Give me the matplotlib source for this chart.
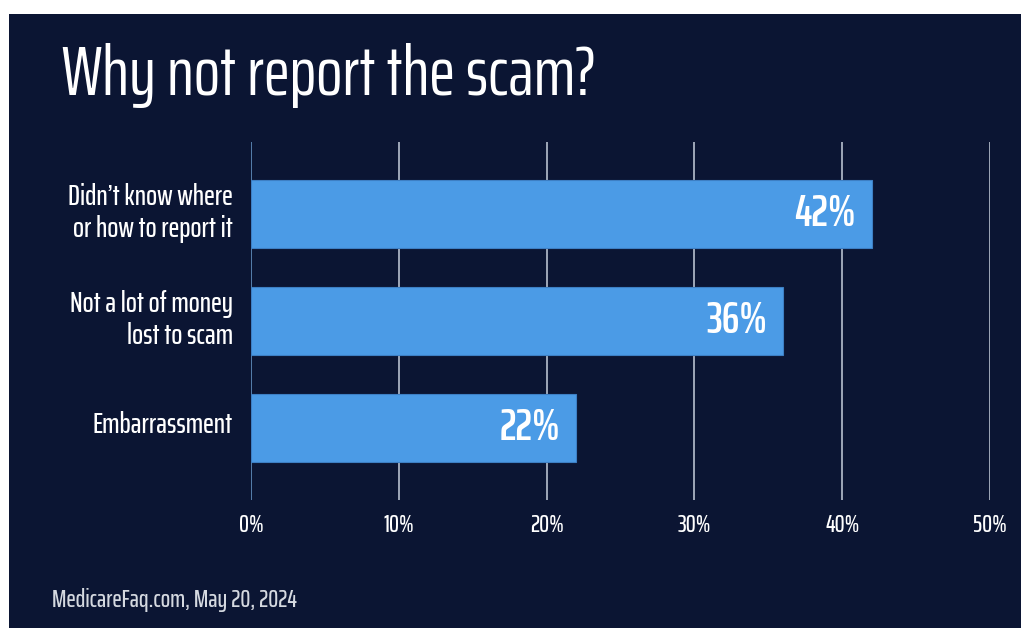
import matplotlib
matplotlib.use('Agg')
import matplotlib.pyplot as plt
from matplotlib.transforms import ScaledTranslation

categories = ["Didn\u2019t know where\nor how to report it", "Not a lot of money\nlost to scam", "Embarrassment"]
values = [42, 36, 22]
ticks = [0, 10, 20, 30, 40, 50]
tick_labels = ['0%', '10%', '20%', '30%', '40%', '50%']

BG = '#0b1533'
BAR = '#4b9be6'
FONT = ['Saira ExtraCondensed', 'DejaVu Sans']
plt.rcParams['font.family'] = FONT

fig = plt.figure(figsize=(10.21, 6.28), dpi=100, facecolor='white')
# dark panel (white border on top and left)
fig.patches.append(plt.Rectangle((9/1021, 0), 1, 1 - 14/628, transform=fig.transFigure,
                                 facecolor=BG, edgecolor='none', zorder=-10))

ax = fig.add_axes([251/1021, 1 - 500/628, (990 - 251)/1021, 358/628])
ax.set_facecolor('none')
y = range(len(categories))
ax.barh(y, values, height=0.634, color=BAR, edgecolor='#3d7fc4', linewidth=0.8, zorder=3)
for i, v in enumerate(values):
    ax.text(v - 1.1, i, f'{v}%', ha='right', va='center', color='white',
            fontsize=32, fontweight='semibold', zorder=4)

ax.set_xlim(0, 50)
ax.set_ylim(2.67, -0.67)
for t in ticks:
    ax.axvline(t, color='#5b86b5' if t == 0 else '#aab3c2', lw=1.3, zorder=1)
ax.set_xticks(ticks)
ax.set_xticklabels(tick_labels)
ax.set_yticks(list(y))
ax.set_yticklabels(categories, linespacing=1.2)
ax.tick_params(axis='x', length=0, pad=9, colors='white', labelsize=18)
ax.tick_params(axis='y', length=0, pad=13, colors='white', labelsize=21)
shift = ScaledTranslation(0, 6/100, fig.dpi_scale_trans)
for lbl in ax.get_yticklabels():
    lbl.set_transform(lbl.get_transform() + shift)
for lbl in ax.get_xticklabels() + ax.get_yticklabels():
    lbl.set_fontweight('medium')
for s in ax.spines.values():
    s.set_visible(False)

fig.text(62/1021, 1 - 95/628, 'Why not report the scam?', color='white', fontsize=50,
         ha='left', va='baseline')
fig.text(52/1021, 1 - 600/628, 'MedicareFaq.com, May 20, 2024', color='#d5d9e0',
         fontsize=18, ha='left', va='center', fontweight='medium')

fig.savefig('out.png', dpi=100, facecolor='white')
